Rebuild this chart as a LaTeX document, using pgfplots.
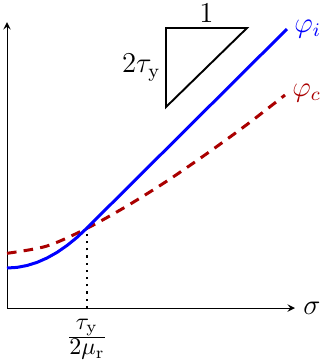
\documentclass[border=0pt]{standalone}
\usepackage{amsmath}
\usepackage{pgfplots}
\pgfplotsset{compat=1.18}

\definecolor{curveblue}{RGB}{0,0,255}
\definecolor{curvered}{RGB}{170,0,0}

\begin{document}
\begin{tikzpicture}[lbl/.style={font=\fontsize{12}{14}\selectfont}]
\begin{axis}[
    x=1.4645cm, y=1.4645cm,
    axis lines=left,
    xmin=0, xmax=2.88,
    ymin=0, ymax=2.86,
    xtick={0.8},
    xticklabels={$\frac{\displaystyle\tau_{\mathrm{y}}}{\displaystyle 2\mu_{\mathrm{r}}}$},
    xticklabel style={yshift=-1pt},
    ytick=\empty,
    major tick length=0pt,
    clip=false,
  ]
  % corners of the picture frame
  \coordinate (bl) at (axis cs:-0.07,-0.52);
  \coordinate (tr) at (axis cs:3.24,3.08);

  % dotted guide at the crossing
  \addplot[black, line width=0.9pt, dash pattern=on 0.9pt off 2.1pt]
    coordinates {(0.8,0) (0.8,0.8)};

  % phi_c
  \addplot[curvered, line width=1.25pt, dash pattern=on 4pt off 3pt, smooth]
    coordinates {
      (0,0.547) (0.4,0.620) (0.8,0.797) (1.2,1.02) (1.6,1.27)
      (2.0,1.545) (2.4,1.835) (2.78,2.13)
    } node[lbl, anchor=west, inner sep=2.5pt, yshift=1pt] {$\varphi_c$};

  % phi_i
  \addplot[curveblue, line width=1.25pt, line join=round]
    coordinates {
      (0,0.400) (0.1,0.406) (0.2,0.425) (0.3,0.456) (0.4,0.500)
      (0.5,0.556) (0.6,0.625) (0.7,0.706) (0.8,0.800) (2.80,2.79)
    } node[lbl, anchor=west, inner sep=2.5pt, yshift=0pt] {$\varphi_i$};

  % slope triangle
  \addplot[black, line width=0.8pt]
    coordinates {(1.59,2.80) (2.40,2.80) (1.59,2.01)} -- cycle;
  \node[lbl, anchor=south, inner sep=2pt] at (axis cs:1.995,2.80) {$1$};
  \node[lbl, anchor=east, inner sep=2pt] at (axis cs:1.59,2.405) {$2\tau_{\mathrm{y}}$};

  \node[lbl, anchor=west, xshift=0pt] at (axis cs:2.88,0) {$\sigma$};
\end{axis}
\pgfresetboundingbox
\path (bl) rectangle (tr);
\end{tikzpicture}
\end{document}
